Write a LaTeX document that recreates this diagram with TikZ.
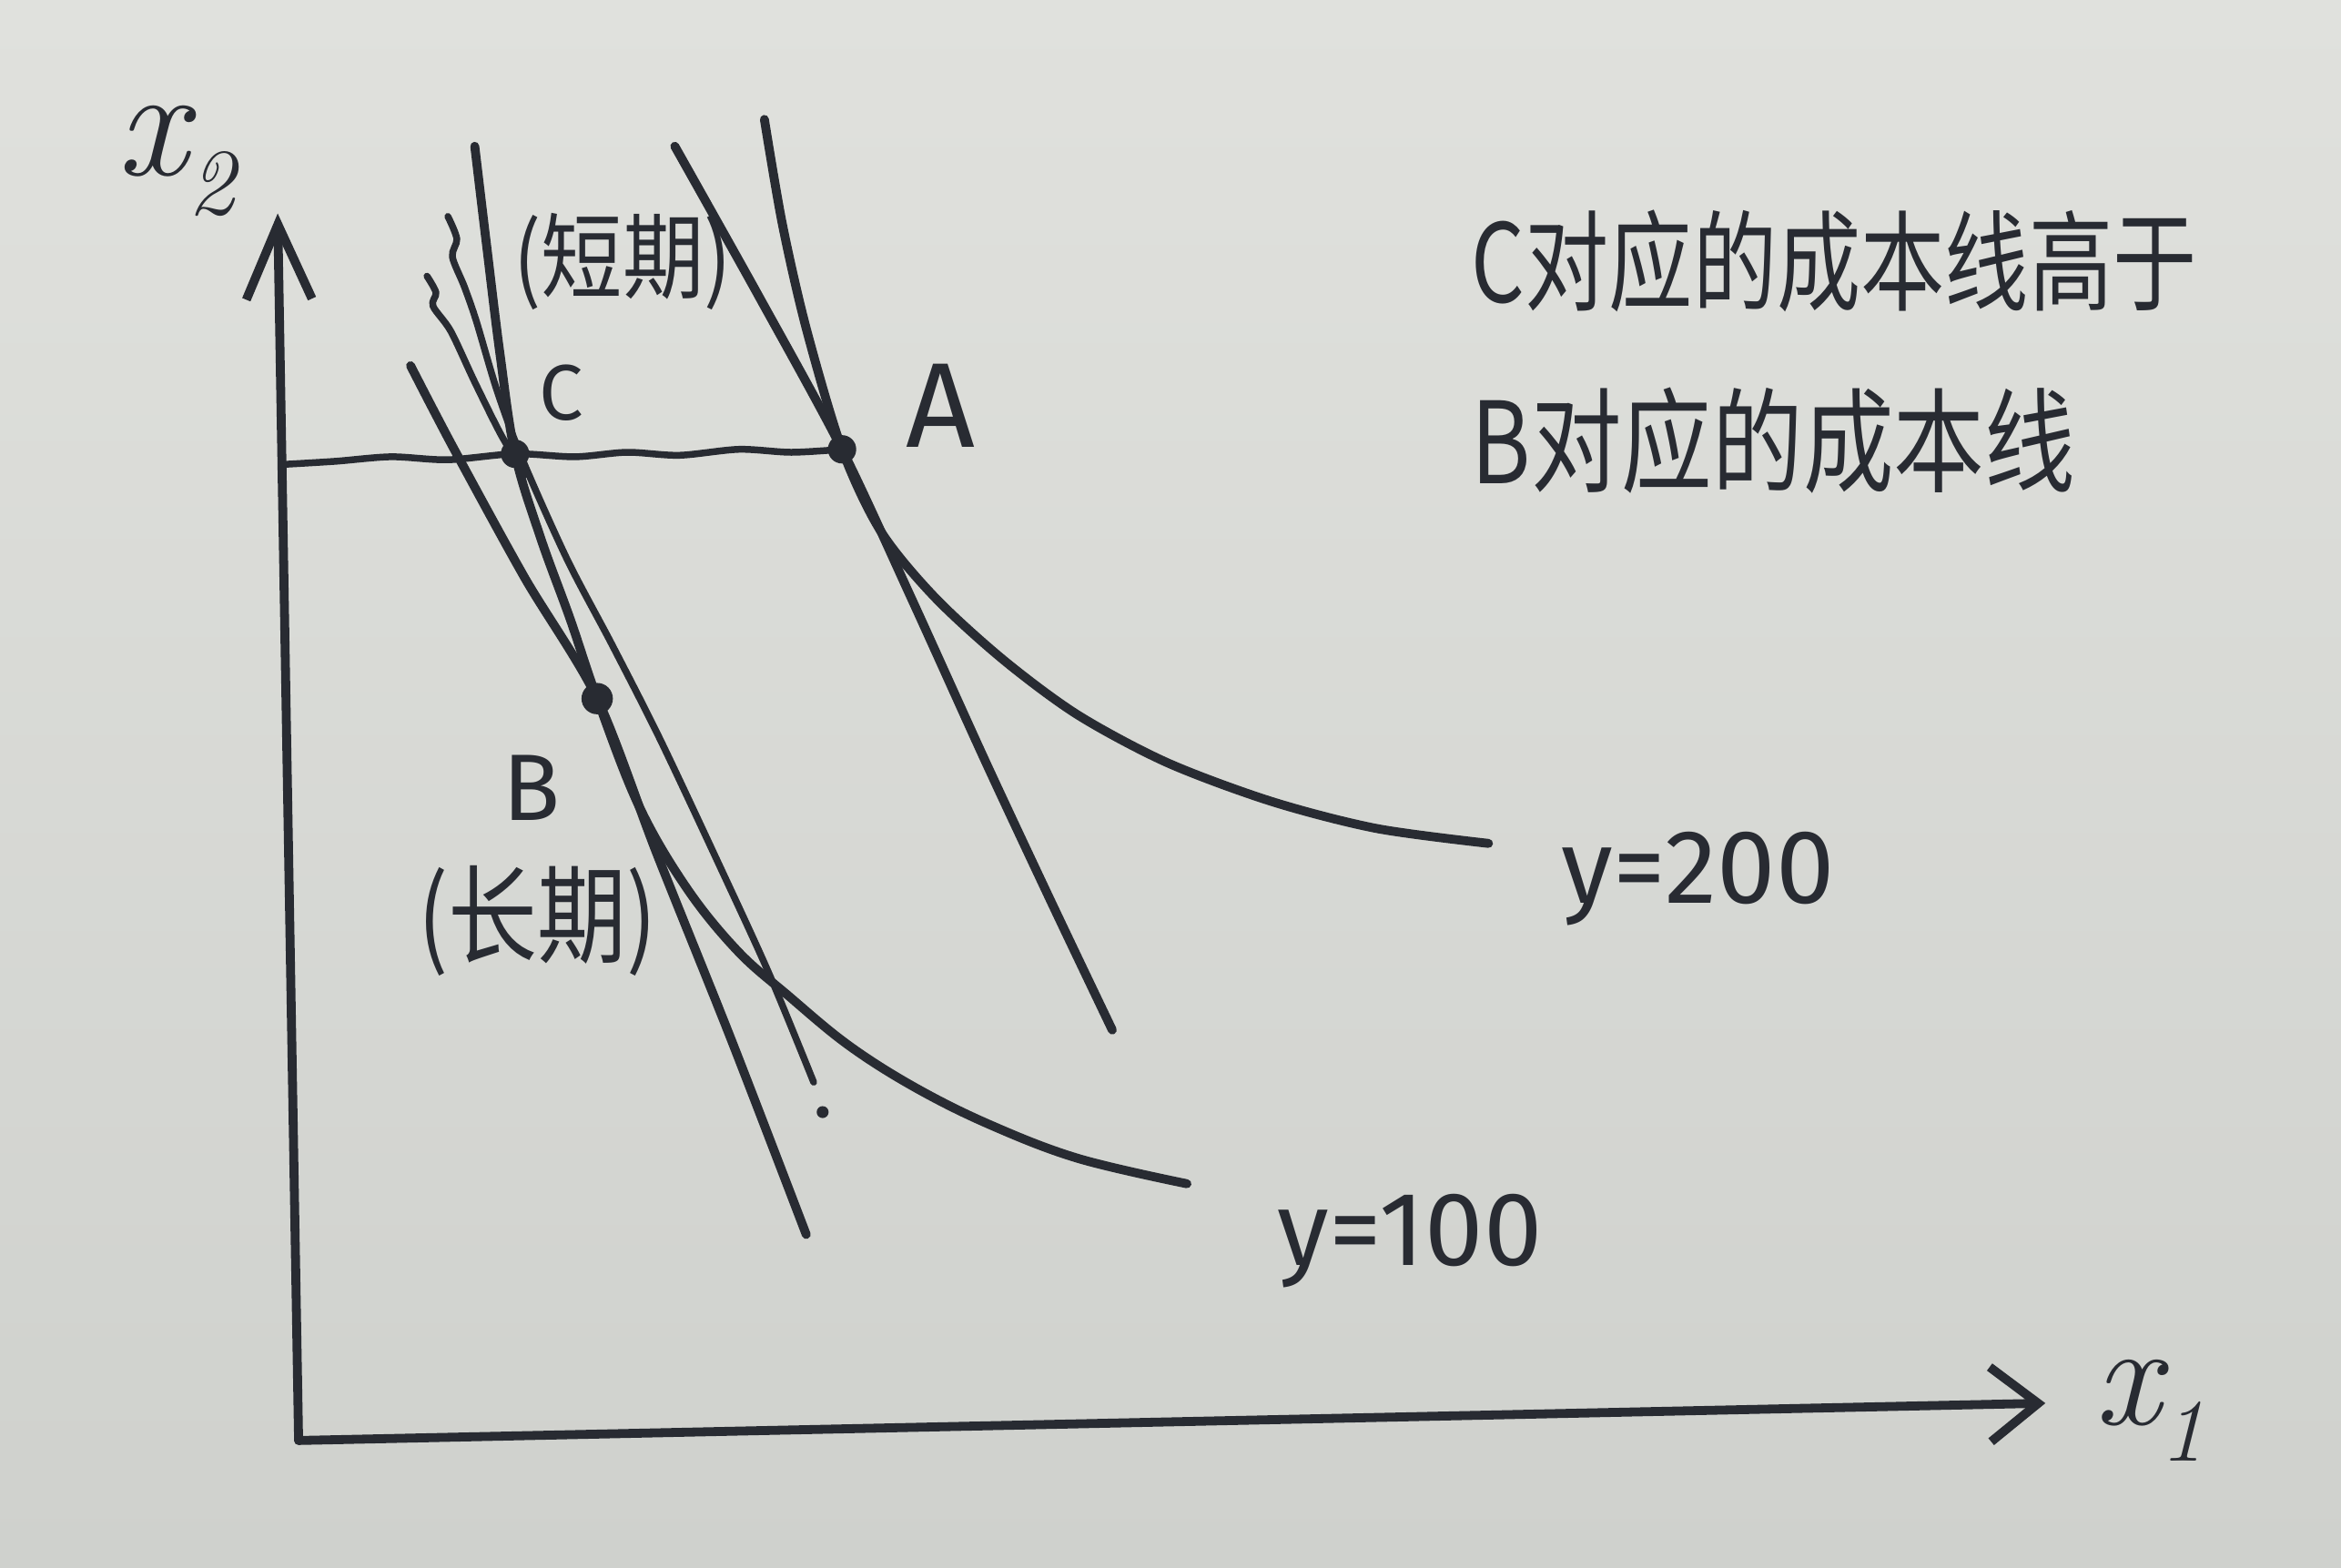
\documentclass[tikz,border=0pt]{standalone}
\usepackage{fontspec}
\usepackage{graphicx}
\newfontfamily\hand{Fira Sans}
\newfontfamily\cjk{Noto Sans CJK SC}
\usetikzlibrary{arrows.meta}
\definecolor{paperA}{RGB}{224,225,221}
\definecolor{paperB}{RGB}{207,209,205}
\definecolor{ink}{RGB}{40,43,50}
\begin{document}
\begin{tikzpicture}[x=0.1mm,y=-0.1mm,
  pen/.style={draw=ink,line width=1.7pt,line cap=round,line join=round},
  thin pen/.style={pen,line width=1.3pt},
  dot/.style={circle,fill=ink,inner sep=0pt,minimum size=1.9mm},
  lab/.style={text=ink,inner sep=0pt}]
\shade[top color=paperA,bottom color=paperB] (0,0) rectangle (1568,1050);
\useasboundingbox (0,0) rectangle (1568,1050);

% axes
\coordinate (O) at (200,965);
\coordinate (Ytip) at (186,143);
\coordinate (Xtip) at (1370,940);
\draw[pen,-{Straight Barb[length=5mm,width=4.4mm]}] (O) -- (Ytip);
\draw[pen,-{Straight Barb[length=3.2mm,width=5mm]}] (O) -- (Xtip);

% points
\node[dot] (C) at (345,304) {};
\node[dot] (A) at (564,301) {};
\node[dot,minimum size=2.1mm] (B) at (400,468) {};

% horizontal line (fixed x2)
\coordinate (H0) at (192,311);
\draw[thin pen] plot[smooth] coordinates {(H0) (225,309) (262,306) (300,308) (C.center) (385,306) (420,303) (455,305) (495,301) (530,303) (A.center)};

% isoquant y=100
\coordinate (Q1s) at (318,98);
\coordinate (Q1e) at (795,793);
\draw[pen] plot[smooth,tension=0.6] coordinates {(Q1s) (326,165) (335,238) (C.center) (362,360) (382,415) (B.center) (428,540) (460,595) (494,637) (528,667) (568,700) (612,728) (662,753) (722,776) (Q1e)};

% short-run cost line through C
\coordinate (LCs) at (300,145);
\coordinate (LCe) at (545,725);
\draw[thin pen] plot[smooth] coordinates {(LCs) (306,160) (303,172) (311,192) (319,215) (333,262) (350,308) (380,375) (410,432) (442,495) (482,580) (515,652) (LCe)};
\node[circle,fill=ink,inner sep=0pt,minimum size=0.8mm] (tick) at (551,745) {};

% extra stroke into C
\coordinate (L3s) at (286,185);
\coordinate (L3e) at (352,318);
\draw[thin pen] plot[smooth] coordinates {(L3s) (292,196) (290,205) (302,222) (318,256) (336,292) (L3e)};

% long-run cost line through B
\coordinate (LBs) at (275,245);
\coordinate (LBe) at (540,827);
\draw[pen] plot[smooth] coordinates {(LBs) (291,276) (308,308) (352,388) (B.center) (440,572) (490,697) (LBe)};

% cost line through A
\coordinate (LAs) at (452,98);
\coordinate (LAe) at (745,690);
\draw[pen] plot[smooth] coordinates {(LAs) (508,198) (A.center) (611,402) (660,510) (704,604) (LAe)};

% isoquant y=200
\coordinate (Q2s) at (512,80);
\coordinate (Q2e) at (997,565);
\draw[pen] plot[smooth] coordinates {(Q2s) (524,150) (540,220) (A.center) (590,356) (626,400) (672,442) (722,479) (782,511) (852,537) (922,555) (Q2e)};

% labels
\node[lab,font=\hand\fontsize{15}{15}\selectfont] (Clab) at (376,263) {C};
\node[lab,font=\hand\fontsize{23}{23}\selectfont] (Alab) at (630,272) {A};
\node[lab,font=\hand\fontsize{18}{18}\selectfont] (Blab) at (356,528) {B};
\node[lab,font=\cjk\fontsize{15.5}{15.5}\selectfont] (short) at (417,175) {\scalebox{1}[1.15]{(短期)}};
\node[lab,font=\cjk\fontsize{17}{17}\selectfont] (long) at (360,617) {\scalebox{1}[1.2]{(长期)}};
\node[lab,font=\hand\fontsize{20}{20}\selectfont,anchor=base west] (y200) at (1045,605) {y=200};
\node[lab,font=\hand\fontsize{20}{20}\selectfont,anchor=base west] (y100) at (855,848) {y=100};
\node[lab,font=\fontsize{30}{30}\selectfont] (x2) at (118,108) {\itshape x\raisebox{-0.25em}{\fontsize{18}{18}\selectfont 2}};
\node[lab,font=\fontsize{28}{28}\selectfont] (x1) at (1440,945) {\itshape x\raisebox{-0.25em}{\fontsize{17}{17}\selectfont 1}};
\node[lab,font=\cjk\fontsize{16}{16}\selectfont,anchor=west] (note1) at (985,175) {\scalebox{1}[1.3]{C对应的成本线高于}};
\node[lab,font=\cjk\fontsize{16}{16}\selectfont,anchor=west] (note2) at (985,295) {\scalebox{1.08}[1.35]{B对应的成本线}};
\end{tikzpicture}
\end{document}
